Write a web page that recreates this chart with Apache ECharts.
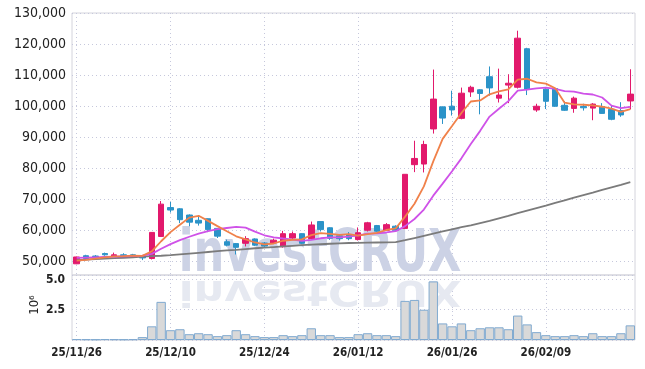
<!DOCTYPE html>
<html><head><meta charset="utf-8">
<script src="https://cdn.jsdelivr.net/npm/echarts@6/dist/echarts.min.js"></script>
<style>html,body{margin:0;padding:0;background:#fff}#c{width:645px;height:369px}</style>
</head><body><div id="c"></div>
<script>
const dates = ['25/11/26','25/11/27','25/11/28','25/12/01','25/12/02','25/12/03','25/12/04','25/12/05','25/12/08','25/12/09',
'25/12/10','25/12/11','25/12/12','25/12/15','25/12/16','25/12/17','25/12/18','25/12/19','25/12/22','25/12/23',
'25/12/24','25/12/26','25/12/29','25/12/30','26/01/02','26/01/05','26/01/06','26/01/07','26/01/08','26/01/09',
'26/01/12','26/01/13','26/01/14','26/01/15','26/01/16','26/01/19','26/01/20','26/01/21','26/01/22','26/01/23',
'26/01/26','26/01/27','26/01/28','26/01/29','26/01/30','26/02/02','26/02/03','26/02/04','26/02/05','26/02/06',
'26/02/09','26/02/10','26/02/11','26/02/12','26/02/13','26/02/19','26/02/20','26/02/23','26/02/24','26/02/25'];

const openP = [49300,51900,51800,52600,51700,52200,52200,51900,51000,58100,
67400,67000,65000,63300,63800,60700,56400,55800,55900,57300,
56000,56000,54800,57600,59000,57400,62900,60900,58300,58700,
57100,60100,61600,60100,61400,60700,81200,81400,92700,99800,
100000,96100,104600,105300,109500,102600,106800,106100,118500,98800,
105500,105700,100300,99300,99900,99400,99900,99000,98600,101700];
const closeP = [51500,51000,51600,52200,52200,51900,51800,51200,59400,68500,
66600,63500,62700,62400,60300,58200,55300,54600,57400,55300,
55000,56900,59000,59000,55900,61800,60300,57500,57400,57400,
59300,62500,59800,61900,60100,78100,83200,87700,102300,96200,
98800,104200,106100,104100,105900,103600,107400,121900,105400,100000,
101600,100000,98700,102600,99500,100700,97700,95800,97200,103900];
const lowP = [49200,50700,51300,51900,51600,51500,51500,50500,50700,58000,
65800,62400,61400,61600,59500,57600,54900,52300,54900,55000,
54500,55700,54500,57000,55600,57200,59700,57000,56800,56900,
56800,59700,59600,59900,59900,60600,78800,78700,91200,94300,
97000,95800,103000,97400,103400,101200,101000,105700,103600,98200,
99100,99800,98500,97900,98600,95500,97600,95500,96600,99000];
const highP = [51600,52200,52100,52900,52900,52700,52500,52100,59500,69500,
69200,67200,65200,65000,63900,60800,57100,56000,58200,57500,
56300,57400,59900,59700,59100,62900,63000,61100,58900,59500,
61000,62800,61800,62400,61700,78100,88900,88900,111800,99900,
105000,106000,106600,105500,112800,112100,110300,124300,118800,100800,
105800,106000,101600,103100,100800,101000,101000,100300,101300,111900];

const ma5 = [50300,50600,51000,51400,51700,51780,51940,51860,53300,56560,
59500,61850,64150,64750,63110,61430,59780,58160,57160,56160,
55520,55840,56720,57040,57160,58520,59200,58900,58580,58880,
58380,58820,59280,60180,60720,64480,68620,74200,82280,89500,
93640,97840,101520,101880,103820,104780,105420,108580,108840,107660,
107260,105780,101140,100580,100480,100300,99840,99260,98180,99060];
const ma10 = [51200,51300,51400,51500,51600,51700,51800,51900,52500,54130,
55640,56900,58000,59020,59840,60470,60820,61160,60960,59640,
58480,57810,57440,57100,56660,57020,57520,57810,57810,58020,
58450,59010,59090,59380,59800,61430,63720,66740,71230,75110,
79060,83230,87860,92080,96660,99210,101630,105050,105360,105740,
106020,105600,104860,104710,104070,103780,102810,100200,99380,99770];
const ma60 = [50500,50650,50800,50950,51100,51250,51400,51600,51750,51900,
52100,52350,52600,52850,53100,53350,53600,53800,54050,54300,
54500,54700,54900,55100,55300,55450,55600,55750,55900,56000,
56050,56100,56150,56200,56300,56900,57600,58300,59000,59700,
60400,61100,61700,62400,63100,63900,64700,65600,66400,67200,
68000,68900,69700,70600,71400,72200,73100,73900,74700,75600];
const volume = [0.08,0.06,0.05,0.07,0.06,0.05,0.06,0.24,1.13,3.15,
0.81,0.89,0.48,0.56,0.48,0.32,0.40,0.81,0.48,0.32,
0.24,0.24,0.40,0.32,0.40,0.97,0.40,0.40,0.24,0.24,
0.48,0.56,0.40,0.40,0.32,3.23,3.31,2.50,4.84,1.37,
1.13,1.37,0.81,0.97,1.05,1.05,0.89,2.02,1.29,0.65,
0.40,0.32,0.32,0.40,0.32,0.56,0.32,0.32,0.56,1.21];

const UP = '#e2196c', DOWN = '#2b93c8';
const gridColor = '#c6c8dc';
const condFont = '"DejaVu Sans Condensed"';

const candleData = dates.map((d, i) => [openP[i], closeP[i], lowP[i], highP[i]]);

const chart = echarts.init(document.getElementById('c'), null, {renderer: 'canvas'});
chart.setOption({
  animation: false,
  backgroundColor: '#ffffff',
  grid: [
    {left: 72, right: 10, top: 13, height: 262, show: true, borderColor: '#d4d4dc', borderWidth: 1},
    {left: 72, right: 10, top: 275, height: 65, show: true, borderColor: '#d4d4dc', borderWidth: 1}
  ],
  xAxis: [
    {type: 'category', gridIndex: 0, data: dates, boundaryGap: true,
     axisLine: {show: false}, axisTick: {show: false}, axisLabel: {show: false},
     splitLine: {show: true, interval: 9, alignWithLabel: true, lineStyle: {color: gridColor, type: [1, 3], width: 1}}},
    {type: 'category', gridIndex: 1, data: dates, boundaryGap: true,
     axisLine: {show: false}, axisTick: {show: false},
     axisLabel: {interval: 9, color: '#222', fontFamily: condFont, fontWeight: 'bold', fontSize: 11.5, margin: 7},
     splitLine: {show: true, interval: 9, alignWithLabel: true, lineStyle: {color: gridColor, type: [1, 3], width: 1}}}
  ],
  yAxis: [
    {type: 'value', gridIndex: 0, min: 45700, max: 130000, splitNumber: 8, scale: true,
     axisLine: {show: false}, axisTick: {show: false},
     axisLabel: {showMinLabel: false, color: '#222', fontFamily: condFont, fontSize: 14, margin: 6,
       formatter: v => (v % 10000 === 0 ? v.toLocaleString('en-US') : '')},
     splitLine: {show: true, lineStyle: {color: gridColor, type: [1, 3], width: 1}}},
    {type: 'value', gridIndex: 1, min: 0, max: 5.37, interval: 2.5,
     axisLine: {show: false}, axisTick: {show: false},
     axisLabel: {color: '#222', fontFamily: condFont, fontWeight: 'bold', fontSize: 12, margin: 7,
       formatter: v => ((v === 2.5 || v === 5) ? v.toFixed(1) : '')},
     splitLine: {show: true, lineStyle: {color: gridColor, type: [1, 3], width: 1}}}
  ],
  graphic: [
    {type: 'text', x: 320, y: 255.5, scaleY: 1.22, z: 1, silent: true,
     style: {text: 'investCRUX', font: 'bold 48px "DejaVu Sans Condensed"', fill: '#ccd2e5', align: 'center', verticalAlign: 'middle'}},
    {type: 'text', x: 320, y: 290, scaleY: -0.75, z: 1, silent: true,
     style: {text: 'investCRUX', font: 'bold 48px "DejaVu Sans Condensed"', fill: '#e6e9f1', align: 'center', verticalAlign: 'middle'}},
    {type: 'text', x: 35, y: 305, rotation: Math.PI / 2, z: 5,
     style: {text: '10⁶', font: '13px "DejaVu Sans Condensed"', fill: '#222', align: 'center', verticalAlign: 'middle'}}
  ],
  series: [
    {type: 'candlestick', xAxisIndex: 0, yAxisIndex: 0, data: candleData, barWidth: '64%', z: 3,
     itemStyle: {color: UP, color0: DOWN, borderColor: UP, borderColor0: DOWN, borderWidth: 1}},
    {type: 'line', xAxisIndex: 0, yAxisIndex: 0, data: ma60, symbol: 'none', z: 4,
     lineStyle: {color: '#7b7b7b', width: 1.8}},
    {type: 'line', xAxisIndex: 0, yAxisIndex: 0, data: ma10, symbol: 'none', z: 4,
     lineStyle: {color: '#cf52e8', width: 1.8}},
    {type: 'line', xAxisIndex: 0, yAxisIndex: 0, data: ma5, symbol: 'none', z: 5,
     lineStyle: {color: '#f0814a', width: 1.8}},
    {type: 'bar', xAxisIndex: 1, yAxisIndex: 1, data: volume, barCategoryGap: '0%', z: 3,
     itemStyle: {color: '#d9d9d9', borderColor: '#80aad0', borderWidth: 1}}
  ]
});
</script>
</body></html>
